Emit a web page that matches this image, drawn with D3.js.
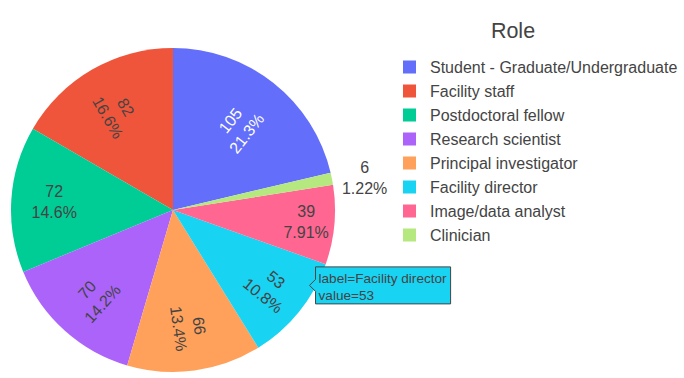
<!DOCTYPE html>
<html>
<head>
<meta charset="utf-8">
<script src="https://cdn.jsdelivr.net/npm/d3@7"></script>
<style>
  html, body { margin: 0; padding: 0; background: #fff; }
  svg { display: block; font-family: "Liberation Sans", Arial, Helvetica, sans-serif; }
</style>
</head>
<body>
<svg id="chart" width="684" height="378"></svg>
<script>
// ---- data ----
const categories = [
  "Student - Graduate/Undergraduate",
  "Facility staff",
  "Postdoctoral fellow",
  "Research scientist",
  "Principal investigator",
  "Facility director",
  "Image/data analyst",
  "Clinician"
];
const values = [105, 82, 72, 70, 66, 53, 39, 6];
const colors = ["#636efa", "#EF553B", "#00cc96", "#ab63fa", "#FFA15A", "#19d3f3", "#FF6692", "#B6E880"];
const legendTitle = "Role";
const hoveredCategory = "Facility director";

// ---- layout ----
const W = 684, H = 378;
const cx = 173, cy = 210, R = 162;
const fontSize = 16, lineH = fontSize * 1.3;
const darkText = "#444", lightText = "#fff";

const svg = d3.select("#chart");
const data = categories.map((c, i) => ({ label: c, v: values[i], color: colors[i] }));
const total = d3.sum(values);
const tau = 2 * Math.PI;
const a0 = values[0] / total * tau;

const pie = d3.pie().sort(null).value(d => d.v).startAngle(a0).endAngle(a0 - tau);
const arcs = pie(data);
const arcGen = d3.arc().innerRadius(0).outerRadius(R);

const g = svg.append("g").attr("transform", `translate(${cx},${cy})`);
g.selectAll("path.slice").data(arcs).enter().append("path")
  .attr("class", "slice")
  .attr("d", arcGen)
  .attr("fill", d => d.data.color);

const pctFmt = d3.format(".3r");
function contrast(col) {
  const c = d3.rgb(col);
  const b = (c.r * 299 + c.g * 587 + c.b * 114) / 1000;
  return b >= 128 ? darkText : lightText;
}

// measurer
const meas = svg.append("text").attr("font-size", fontSize).attr("visibility", "hidden");
function textWidth(s, fs) {
  meas.attr("font-size", fs).text(s);
  return meas.node().getComputedTextLength();
}

arcs.forEach(d => {
  const lines = [String(d.data.v), pctFmt(d.data.v / total * 100) + "%"];
  const w = d3.max(lines, l => textWidth(l, fontSize));
  const h = lineH * (lines.length - 1) + fontSize * 1.2;
  const a = w / h;
  const mid = (d.startAngle + d.endAngle) / 2;
  const half = Math.abs(d.endAngle - d.startAngle) / 2;
  const ux = Math.sin(mid), uy = -Math.cos(mid);
  const tanH = Math.tan(Math.min(half, Math.PI / 2 - 1e-6));
  const s = R / Math.sqrt(Math.pow(2 * a + 1 / tanH, 2) + 1);
  const scale = 2 * s / h;
  let x, y, rot = 0, fill;
  if (scale >= 1) {
    let rc = s * (1 / tanH + a);
    let deg = mid * 180 / Math.PI - 90;
    deg = ((deg % 360) + 360) % 360;
    if (deg > 90 && deg <= 270) deg -= 180;
    if (deg > 180) deg -= 360;
    rot = Math.abs(deg) < 15 ? 0 : deg;
    if (rot === 0) rc += 3;
    x = ux * rc; y = uy * rc;
    fill = contrast(d.data.color);
  } else {
    const px = ux * R, py = uy * R;
    let dx = w / 2, dy = h / 2;
    if (px < 0) dx *= -1;
    if (py < 0) dy *= -1;
    x = px + dx + Math.abs(dy) * (dx > 0 ? 1 : -1) / 2;
    y = py + dy / (1 + px * px / (py * py));
    fill = darkText;
  }
  const t = g.append("text")
    .attr("transform", `translate(${x},${y}) rotate(${rot})`)
    .attr("text-anchor", "middle")
    .attr("font-size", fontSize)
    .attr("fill", fill);
  const b1 = -(lineH * (lines.length - 1)) / 2 + 5.5;
  lines.forEach((l, i) => {
    t.append("tspan").attr("x", 0).attr("y", b1 + i * lineH).text(l);
  });
});

// ---- legend ----
const lg = svg.append("g");
lg.append("text").attr("x", 513).attr("y", 38).attr("text-anchor", "middle")
  .attr("font-size", 21.5).attr("fill", darkText).text(legendTitle);
const rowY = d3.scalePoint().domain(categories).range([67, 67 + 24 * (categories.length - 1)]);
data.forEach(d => {
  const yc = rowY(d.label);
  lg.append("rect").attr("x", 403).attr("y", yc - 6.5).attr("width", 13).attr("height", 13)
    .attr("fill", d.color);
  lg.append("text").attr("x", 430).attr("y", yc + 5.5).attr("font-size", fontSize)
    .attr("fill", darkText).text(d.label);
});

// ---- hover label ----
const hd = arcs.find(d => d.data.label === hoveredCategory);
if (hd) {
  const mid = (hd.startAngle + hd.endAngle) / 2;
  const half = Math.abs(hd.endAngle - hd.startAngle) / 2;
  const rIns = Math.min(1 / (1 + 1 / Math.sin(half)), 0.5);
  const hx = cx + Math.sin(mid) * R * (1 - rIns) + rIns * R + 1.5;
  const hy = cy - Math.cos(mid) * R * (1 - rIns) - 1;
  const hfs = 13.6;
  const hl = ["label=" + hd.data.label, "value=" + hd.data.v];
  const tw = d3.max(hl, l => textWidth(l, hfs));
  const bw = tw + 7, bh = 37, ar = 6;
  const hg = svg.append("g").attr("transform", `translate(${hx},${hy})`);
  hg.append("path")
    .attr("d", `M0,0L${ar},${-ar}V${-bh / 2}H${ar + bw}V${bh / 2}H${ar}V${ar}Z`)
    .attr("fill", hd.data.color).attr("stroke", darkText).attr("stroke-width", 1);
  const ht = hg.append("text").attr("font-size", hfs).attr("fill", darkText);
  hl.forEach((l, i) => ht.append("tspan").attr("x", ar + 3).attr("y", -2.5 + i * 17.5).text(l));
}
meas.remove();
</script>
</body>
</html>
